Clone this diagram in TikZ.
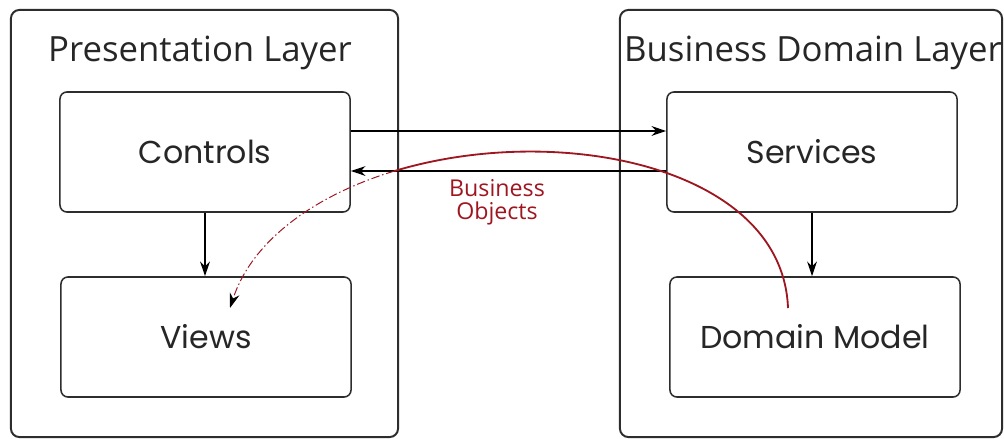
\documentclass[tikz,border=0pt]{standalone}
\usepackage{fontspec}
\setmainfont{Open Sans}
\newfontfamily\boxfont{Poppins}
\usepackage{tikz}
\usetikzlibrary{arrows.meta,calc,positioning}
\definecolor{objred}{RGB}{158,22,32}
\definecolor{edgegray}{RGB}{45,45,45}

\begin{document}
\begin{tikzpicture}[
    x=0.025cm, y=-0.025cm,
    layer/.style={draw=edgegray, line width=1.4pt, rounded corners=6pt, minimum height=10.675cm, inner sep=0},
    layertitle/.style={font=\fontsize{24.7}{29}\selectfont, text=black!85},
    component/.style={draw=edgegray, line width=1.1pt, rounded corners=5pt, minimum width=7.25cm, minimum height=3cm, inner sep=0, font=\boxfont\fontsize{22.5}{26}\selectfont, text=black!85},
    flow/.style={draw=black, line width=1pt, -{Stealth[length=10.5pt,width=7pt]}},
    objflow/.style={draw=objred, line width=1.3pt},
    objtail/.style={draw=objred, line width=0.7pt, dash pattern=on 6pt off 2pt on 1pt off 2pt, -{Stealth[length=10.5pt,width=7pt,color=black]}}]
\useasboundingbox (0,0) rectangle (1004,439);

% the two layers
\node[layer, minimum width=9.675cm] (presLayer) at (204.5,223.5) {};
\node[layer, minimum width=9.55cm] (bizLayer) at (811,223.5) {};
\node[layertitle] (presTitle) at (200,53) {Presentation Layer};
\node[layertitle] (bizTitle) at (813,53) {Business Domain Layer};

% components
\node[component] (controls) at (205,152) {Controls};
\node[component] (views) at (206,337) {Views};
\node[component] (services) at (812,152) {Services};
\node[component] (dommodel) at (815,337) {Domain Model};

\path[flow] ([yshift=0.525cm]controls.east) -- ([yshift=0.525cm]controls.east -| services.west);
\path[flow] ([yshift=-0.475cm]services.west) -- ([yshift=-0.475cm]services.west -| controls.east);
\path[flow] (controls.south) -- (views.north -| controls.south);
\path[flow] (services.south) -- (dommodel.north -| services.south);

% business objects handed back to the views
\coordinate (boStart) at ($(dommodel.center)+(-27,-29)$);
\coordinate (boSplit) at (394.2,171.1);
\coordinate (boEnd) at ($(views.center)+(24,-29)$);
\path[objflow] (boStart) .. controls (782.6,166.6) and (558.8,121.3) .. (boSplit);
\path[objtail] (boSplit) .. controls (316.8,194.6) and (252.4,239.4) .. (boEnd);
\node[text=objred, align=center, font=\fontsize{16.5}{16.5}\selectfont] (boLabel) at (497,202) {Business\\Objects};

\end{tikzpicture}
\end{document}
